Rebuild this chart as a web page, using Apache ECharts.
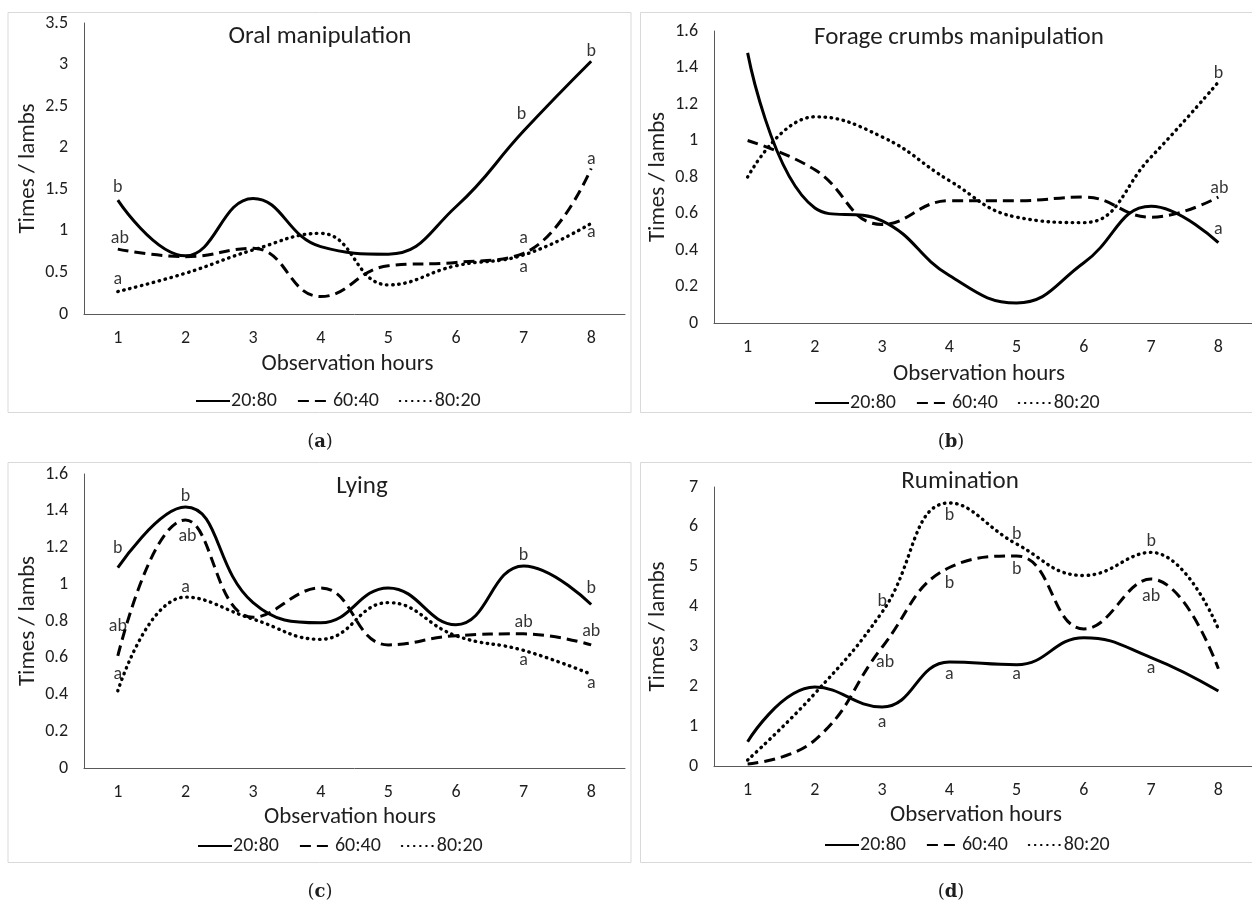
<!DOCTYPE html>
<html><head><meta charset="utf-8">
<script src="https://cdn.jsdelivr.net/npm/echarts@6/dist/echarts.min.js"></script>
<style>html,body{margin:0;padding:0;background:#fff}#c{width:1252px;height:901px}</style>
</head><body><div id="c"></div>
<script>
// ---------- DATA ----------
const hours = ['1','2','3','4','5','6','7','8'];
const groupNames = ['20:80','60:40','80:20'];

const oral_2080 = [1.37, 0.70, 1.39, 0.81, 0.72, 1.29, 2.20, 3.04];
const oral_6040 = [0.78, 0.69, 0.79, 0.21, 0.58, 0.62, 0.73, 1.75];
const oral_8020 = [0.27, 0.49, 0.77, 0.97, 0.35, 0.58, 0.71, 1.09];
const oral_let_2080 = ['b','','','','','','b','b'];
const oral_let_6040 = ['ab','','','','','','a','a'];
const oral_let_8020 = ['a','','','','','','a','a'];

const forage_2080 = [1.48, 0.63, 0.56, 0.26, 0.11, 0.33, 0.64, 0.44];
const forage_6040 = [1.00, 0.84, 0.54, 0.67, 0.67, 0.69, 0.58, 0.69];
const forage_8020 = [0.80, 1.13, 1.02, 0.78, 0.58, 0.55, 0.91, 1.32];
const forage_let_2080 = ['','','','','','','','a'];
const forage_let_6040 = ['','','','','','','','ab'];
const forage_let_8020 = ['','','','','','','','b'];

const lying_2080 = [1.09, 1.42, 0.90, 0.79, 0.98, 0.78, 1.10, 0.89];
const lying_6040 = [0.61, 1.35, 0.82, 0.98, 0.67, 0.72, 0.73, 0.67];
const lying_8020 = [0.42, 0.93, 0.81, 0.70, 0.90, 0.72, 0.64, 0.51];
const lying_let_2080 = ['b','b','','','','','b','b'];
const lying_let_6040 = ['ab','ab','','','','','ab','ab'];
const lying_let_8020 = ['a','a','','','','','a','a'];

const rum_2080 = [0.61, 1.98, 1.48, 2.61, 2.54, 3.22, 2.72, 1.88];
const rum_6040 = [0.05, 0.65, 2.98, 4.98, 5.27, 3.44, 4.69, 2.44];
const rum_8020 = [0.15, 1.82, 3.86, 6.60, 5.57, 4.78, 5.36, 3.44];
const rum_let_2080 = ['','','a','a','a','','a',''];
const rum_let_6040 = ['','','ab','b','b','','ab',''];
const rum_let_8020 = ['','','b','b','b','','b',''];

const yTitle = 'Times / lambs';
const xTitle = 'Observation hours';
const panelTitles = ['Oral manipulation','Forage crumbs manipulation','Lying','Rumination'];
const panelTags = ['a','b','c','d'];

// ---------- LAYOUT / STYLE ----------
const FONT = 'Carlito, Lato, "Open Sans", sans-serif';
const TXT = '#1e1e1e';
const panels = [
  {data:[oral_2080,oral_6040,oral_8020], lets:[oral_let_2080,oral_let_6040,oral_let_8020],
   grid:{left:84,top:23,width:541,height:291}, y:{max:3.5,interval:0.5},
   title:[320,37], tag:[320,442], legendLeft:190, legendTop:386, xGap:39, xPad:14,
   box:[8,12.5,623,400],
   off:[[[0,-13],null,null,null,null,null,[-2,-17],[0,-10]],
        [[2,-11],null,null,null,null,null,[0,-15],[0,-9]],
        [[0,-12],null,null,null,null,null,[0,13],[0,9]]]},
  {data:[forage_2080,forage_6040,forage_8020], lets:[forage_let_2080,forage_let_6040,forage_let_8020],
   grid:{left:714,top:31,width:540,height:292}, y:{max:1.6,interval:0.2},
   title:[959,38], tag:[951,442], legendLeft:809, legendTop:388, xGap:40, xPad:8,
   box:[640.5,12.5,640,400],
   off:[[null,null,null,null,null,null,null,[0,-13]],
        [null,null,null,null,null,null,null,[1,-9]],
        [null,null,null,null,null,null,null,[0,-9]]]},
  {data:[lying_2080,lying_6040,lying_8020], lets:[lying_let_2080,lying_let_6040,lying_let_8020],
   grid:{left:84,top:474,width:541,height:294}, y:{max:1.6,interval:0.2},
   title:[362,487], tag:[320,892], legendLeft:192, legendTop:831, xGap:38, xPad:9,
   box:[8,462.5,623,400],
   off:[[[0,-19],[0,-11],null,null,null,null,[0,-10],[0,-16]],
        [[0,-29],[2,17],null,null,null,null,[0,-11],[0,-13]],
        [[0,-16],[0,-10],null,null,null,null,[0,10],[0,9]]]},
  {data:[rum_2080,rum_6040,rum_8020], lets:[rum_let_2080,rum_let_6040,rum_let_8020],
   grid:{left:714,top:487,width:549,height:279}, y:{max:7,interval:1},
   title:[960,482], tag:[951,892], legendLeft:819, legendTop:830, xGap:38, xPad:14,
   box:[640.5,462.5,640,400],
   off:[[null,null,[0,15],[0,13],[0,10],null,[0,11],null],
        [null,null,[3,15],[0,16],[0,14],null,[0,17],null],
        [null,null,[0,-11],[0,13],[0,-9],null,[0,-11],null]]}
];
const lineStyles = [
  {color:'#000', width:3, type:'solid'},
  {color:'#000', width:3, type:[11,6]},
  {color:'#000', width:3.4, type:[0.5,5.6], cap:'round'}
];

// ---------- BUILD ----------
const grids=[], xAxes=[], yAxes=[], series=[], legends=[], graphics=[];
panels.forEach((p,i)=>{
  graphics.push({type:'rect', shape:{x:p.box[0],y:p.box[1],width:p.box[2],height:p.box[3]},
    style:{fill:'none',stroke:'#d9d9d9',lineWidth:1}, silent:true, z:-1});
  graphics.push({type:'text', x:p.title[0], y:p.title[1],
    style:{text:panelTitles[i], font:'25px '+FONT, fill:TXT, textAlign:'center', textVerticalAlign:'middle'}});
  graphics.push({type:'text', x:p.tag[0], y:p.tag[1],
    style:{text:'{n|(}{b|'+panelTags[i]+'}{n|)}', textAlign:'center', textVerticalAlign:'middle',
      rich:{n:{fontFamily:'"DejaVu Serif", serif',fontSize:18,fill:TXT,color:TXT},
            b:{fontFamily:'"DejaVu Serif", serif',fontSize:18,fontWeight:'bold',fill:TXT,color:TXT}}}});
  grids.push(Object.assign({containLabel:false}, p.grid));
  xAxes.push({type:'category', gridIndex:i, data:hours, boundaryGap:true,
    axisLine:{lineStyle:{color:'#595959',width:1}}, axisTick:{show:false},
    axisLabel:{color:TXT, fontFamily:FONT, fontSize:18, margin:15},
    name:xTitle, nameLocation:'middle', nameGap:p.xGap,
    nameTextStyle:{color:TXT, fontFamily:FONT, fontSize:23, padding:[0,p.xPad,0,0]}});
  yAxes.push({type:'value', gridIndex:i, min:0, max:p.y.max, interval:p.y.interval,
    axisLine:{show:true, lineStyle:{color:'#595959',width:1}}, axisTick:{show:false},
    splitLine:{show:false},
    axisLabel:{color:TXT, fontFamily:FONT, fontSize:18, margin:16},
    name:yTitle, nameLocation:'middle', nameGap:44, nameRotate:90,
    nameTextStyle:{color:TXT, fontFamily:FONT, fontSize:23}});
  p.data.forEach((arr,k)=>{
    series.push({type:'line', name:groupNames[k], xAxisIndex:i, yAxisIndex:i,
      data:arr, smooth:0.45, symbol:'none', lineStyle:lineStyles[k], itemStyle:{color:'#000'},
      animation:false, z:3});
    const pts=[];
    arr.forEach((v,j)=>{
      const L=p.lets[k][j];
      if(L){ pts.push({value:[j,v], label:{show:true, formatter:L, position:'inside',
        offset:p.off[k][j]||[0,-12]}}); }
    });
    series.push({type:'scatter', name:'letters-'+i+'-'+k, xAxisIndex:i, yAxisIndex:i,
      data:pts, symbolSize:0, silent:true, animation:false, z:4,
      label:{show:true, color:'#000', fontFamily:FONT, fontSize:18, textBorderWidth:0}});
  });
  legends.push({data:groupNames, left:p.legendLeft, top:p.legendTop, itemWidth:34, itemHeight:14,
    itemGap:20, selectedMode:false, textStyle:{color:TXT, fontFamily:FONT, fontSize:20, padding:[0,0,0,-4]},
    itemStyle:{color:'rgba(0,0,0,0)', borderWidth:0}});
});

const chart = echarts.init(document.getElementById('c'), null, {renderer:'canvas'});
chart.setOption({animation:false, backgroundColor:'#fff', grid:grids, xAxis:xAxes, yAxis:yAxes,
  series:series, legend:legends, graphic:graphics});
</script></body></html>
